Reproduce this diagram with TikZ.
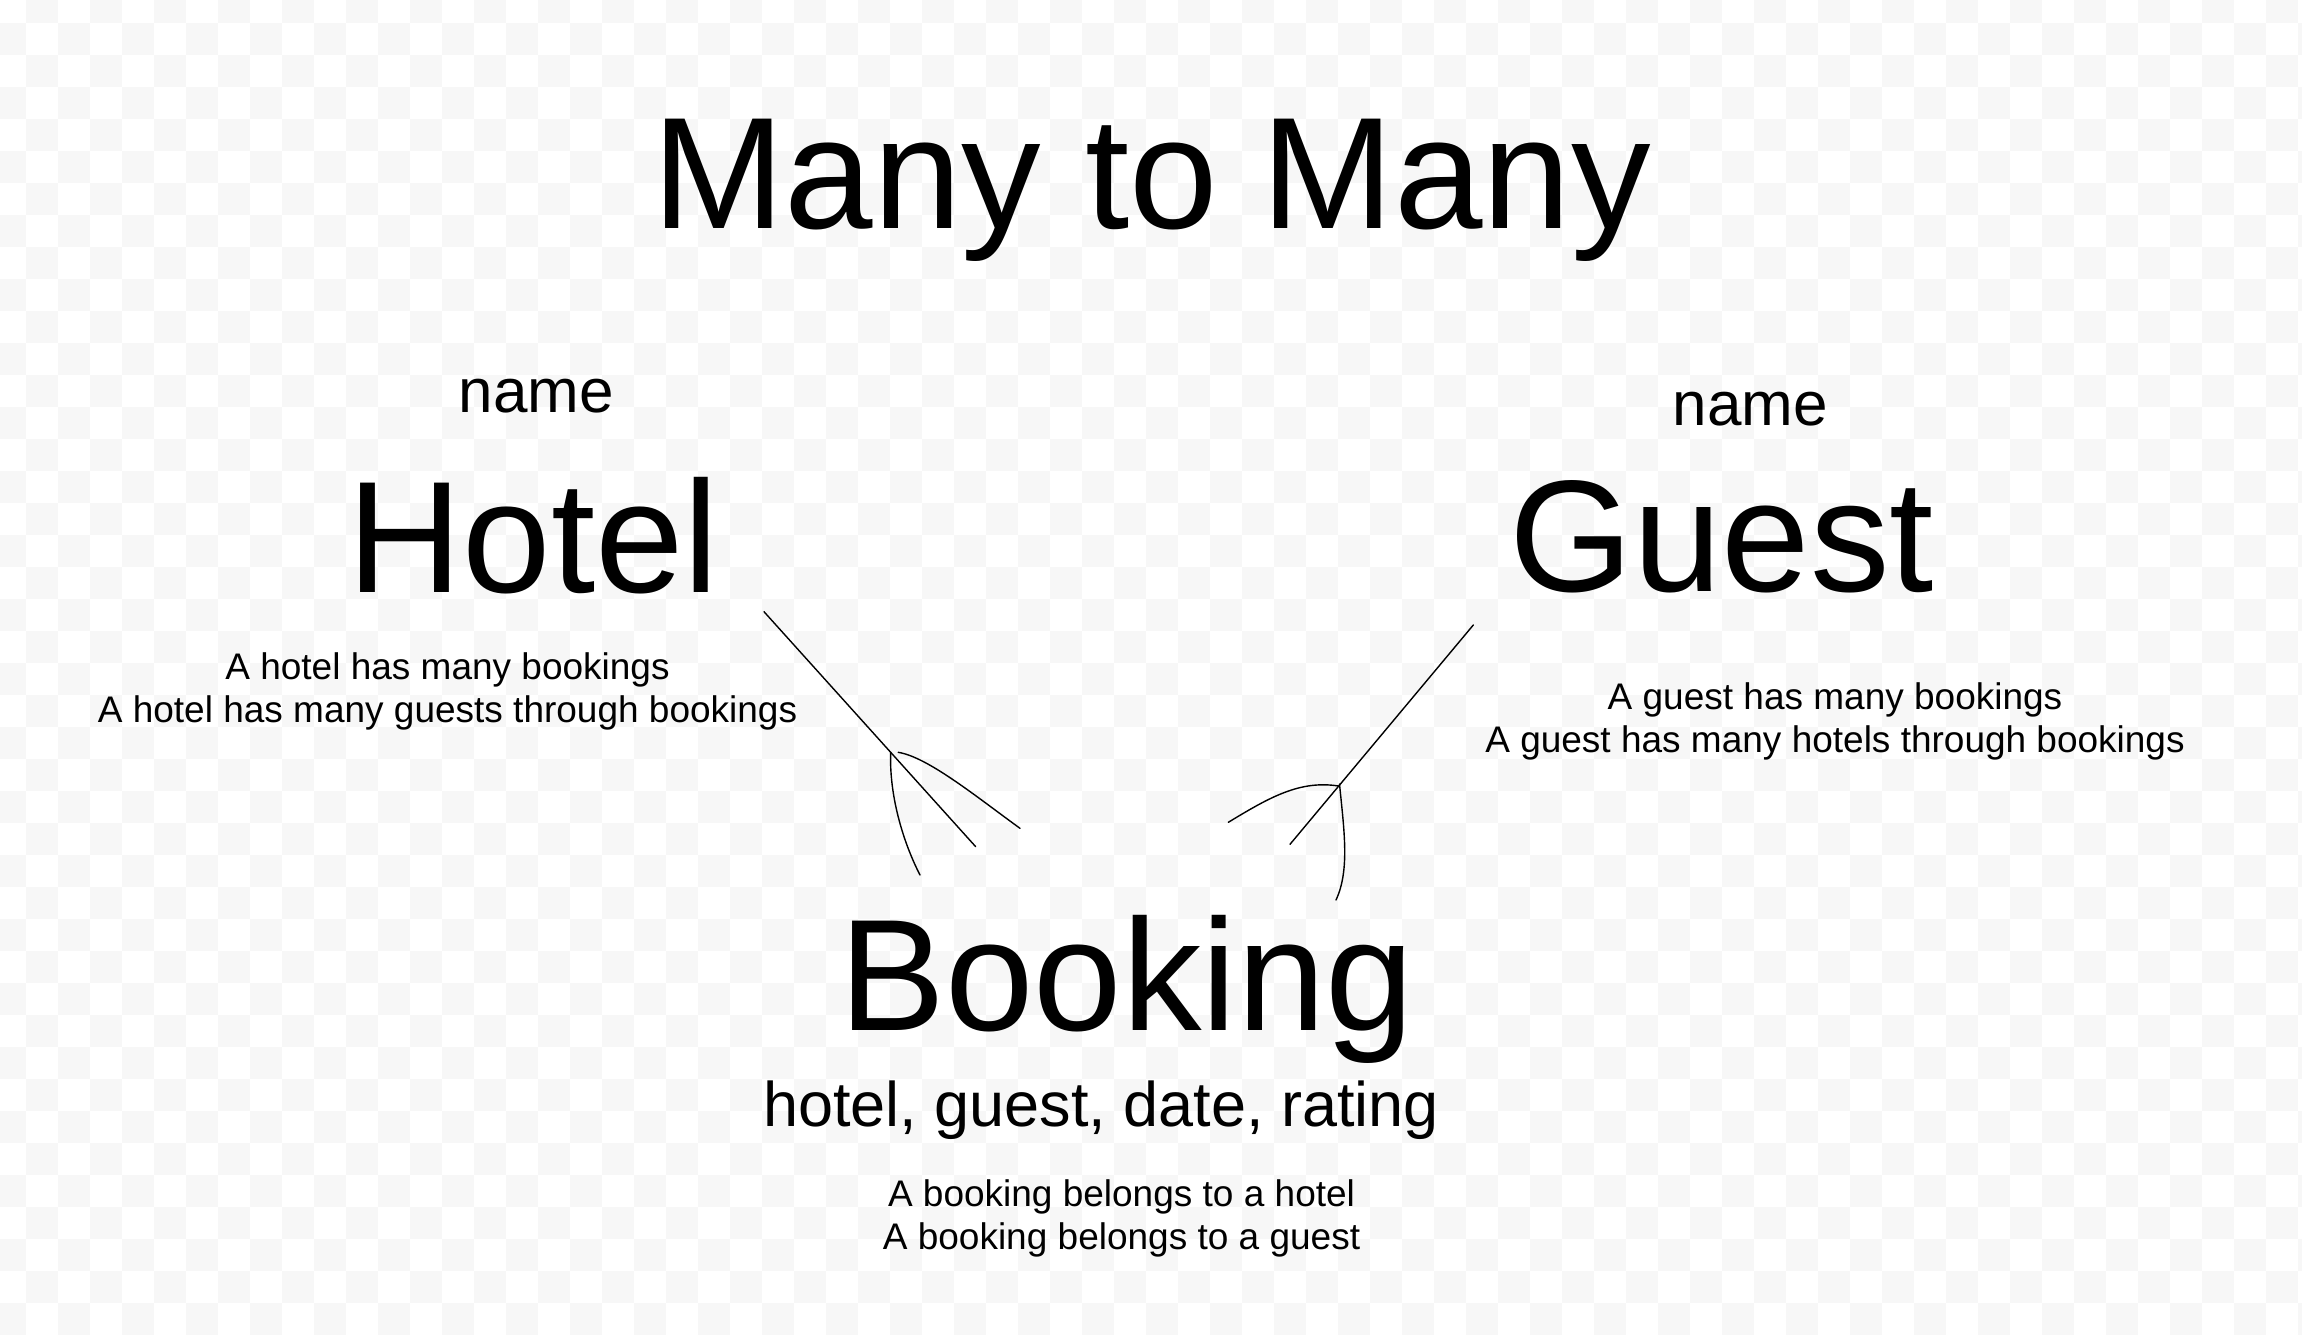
\documentclass[tikz,border=0pt]{standalone}
\usepackage{fontspec}
\setmainfont{Liberation Sans}
\definecolor{checkgray}{RGB}{247,247,247}
\begin{document}
\begin{tikzpicture}[x=1pt,y=-1pt,
  bigtxt/.style={inner sep=0pt,anchor=base,font=\fontsize{159}{190}\selectfont},
  midtxt/.style={inner sep=0pt,anchor=base,font=\fontsize{62}{74}\selectfont},
  attrtxt/.style={inner sep=0pt,anchor=base,font=\fontsize{63}{75}\selectfont},
  smalltxt/.style={inner sep=0pt,anchor=base,font=\fontsize{37}{43.3}\selectfont},
  foot/.style={draw=black,line width=1.4pt,line cap=round}]
\useasboundingbox (0,0) rectangle (2302,1334);
\fill[white] (0,0) rectangle (2302,1334);
\begin{scope}
\clip (0,0) rectangle (2302,1334);
\foreach \j in {0,...,42}{
  \foreach \k in {0,...,36}{
    \pgfmathsetmacro\xa{-6+32*(2*\k+mod(\j+1,2))}
    \fill[checkgray] (\xa,-9.3+32*\j) rectangle ++(32,32);
  }
}
\end{scope}

% texts
\node[bigtxt] (title) at (1151.5,228) {Many to Many};
\node[midtxt] (hname) at (536.5,412.7) {name};
\node[bigtxt] (hotel) at (533.5,592.3) {Hotel};
\node[smalltxt] (hd1) at (447.5,679.3) {A hotel has many bookings};
\node[smalltxt] (hd2) at (447.5,722.7) {A hotel has many guests through bookings};
\node[midtxt] (gname) at (1750.5,425) {name};
\node[bigtxt] (guest) at (1721.7,591.7) {Guest};
\node[smalltxt] (gd1) at (1835,709.5) {A guest has many bookings};
\node[smalltxt] (gd2) at (1835,752.8) {A guest has many hotels through bookings};
\node[bigtxt] (booking) at (1126.8,1030) {Booking};
\node[attrtxt] (battr) at (1101,1126.7) {hotel, guest, date, rating};
\node[smalltxt] (bd1) at (1121.5,1206) {A booking belongs to a hotel};
\node[smalltxt] (bd2) at (1121.5,1249.3) {A booking belongs to a guest};

% left crow's foot (hotel side)
\coordinate (hs) at (764,611.7);
\coordinate (hj) at (890.7,752.3);
\coordinate (he) at (975.7,846.7);
\coordinate (hl) at (920,875);
\coordinate (hr) at (1020,828.3);
\draw[foot] (hs) -- (he);
\draw[foot] (hj) .. controls (889,795) and (903,842) .. (hl);
\draw[foot] ([xshift=7.5pt]hj) .. controls (928,757) and (978,798) .. (hr);

% right crow's foot (guest side)
\coordinate (gs) at (1473.3,625);
\coordinate (gj) at (1339.5,784);
\coordinate (ge) at (1290,844.3);
\coordinate (gl) at (1228.3,822.3);
\coordinate (gb) at (1336,900);
\draw[foot] (gs) -- (ge);
\draw[foot] ([xshift=-1pt,yshift=-2pt]gj) .. controls (1300,780) and (1270,797) .. (gl);
\draw[foot] (gj) .. controls (1344,830) and (1350,870) .. (gb);
\end{tikzpicture}
\end{document}
